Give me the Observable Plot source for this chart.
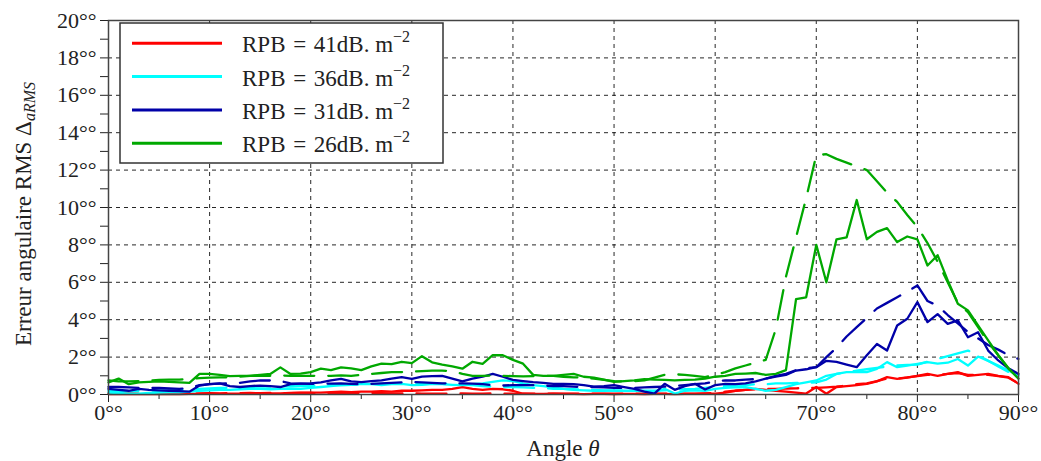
<!DOCTYPE html>
<html><head><meta charset="utf-8">
<script src="https://cdn.jsdelivr.net/npm/d3@7"></script>
<script src="https://cdn.jsdelivr.net/npm/@observablehq/plot@0.6"></script>
<style>
body{margin:0;background:#fff;}
#chart svg{display:block;}
#chart svg text{font-family:'Liberation Serif', serif;}
</style></head><body><div id="chart"></div>
<script>
// Angle theta (degrees), one sample per degree
const angles = [0,1,2,3,4,5,6,7,8,9,10,11,12,13,14,15,16,17,18,19,20,21,22,23,24,25,26,27,28,29,30,31,32,33,34,35,36,37,38,39,40,41,42,43,44,45,46,47,48,49,50,51,52,53,54,55,56,57,58,59,60,61,62,63,64,65,66,67,68,69,70,71,72,73,74,75,76,77,78,79,80,81,82,83,84,85,86,87,88,89,90];

// RPB = 41 dB.m^-2 (red)
const rpb41Solid = [0.02,0.02,0.03,0.02,0.02,0.03,0.02,0.02,0.03,0.03,0.04,0.03,0.04,0.04,0.05,0.05,0.06,0.06,0.08,0.1,0.1,0.1,0.12,0.15,0.12,0.15,0.15,0.18,0.15,0.2,0.2,0.22,0.25,0.25,0.3,0.4,0.3,0.25,0.3,0.28,0.2,0.04,0.03,0.03,0.04,0.03,0.03,0.02,0.03,0.03,0.02,0.03,0.03,0.02,0.03,0.03,0.02,0.03,0.03,0.04,0.05,0.1,0.2,0.25,0.3,0.25,0.2,0.15,0.1,0.05,0.4,0.04,0.4,0.45,0.5,0.57,0.7,0.93,0.84,0.9,1.0,1.1,1.0,1.1,1.2,1.0,1.05,1.1,1.0,0.93,0.57];
const rpb41Dashed = [0.05,0.05,0.06,0.05,0.05,0.06,0.06,0.05,0.06,0.06,0.07,0.06,0.07,0.07,0.08,0.07,0.08,0.08,0.07,0.08,0.08,0.07,0.08,0.08,0.07,0.08,0.08,0.07,0.06,0.06,0.06,0.05,0.05,0.05,0.05,0.06,0.05,0.05,0.06,0.05,0.05,0.05,0.04,0.04,0.05,0.04,0.04,0.05,0.04,0.04,0.05,0.04,0.04,0.05,0.04,0.04,0.05,0.04,0.05,0.06,0.08,0.15,0.2,0.25,0.28,0.3,0.3,0.32,0.33,0.35,0.35,0.38,0.42,0.48,0.55,0.6,0.72,0.85,0.85,0.92,0.98,1.05,1.05,1.1,1.15,1.05,1.05,1.05,0.98,0.9,0.6];

// RPB = 36 dB.m^-2 (cyan)
const rpb36Solid = [0.1,0.08,0.05,0.05,0.08,0.1,0.12,0.12,0.15,0.2,0.22,0.25,0.25,0.28,0.3,0.3,0.28,0.3,0.32,0.3,0.35,0.4,0.45,0.5,0.52,0.57,0.55,0.5,0.55,0.57,0.5,0.52,0.57,0.55,0.52,0.5,0.55,0.6,0.68,0.75,0.72,0.6,0.5,0.45,0.38,0.3,0.25,0.22,0.2,0.2,0.22,0.2,0.2,0.18,0.15,0.3,0.05,0.2,0.22,0.2,0.3,0.35,0.38,0.4,0.3,0.2,0.25,0.4,0.55,0.65,0.75,1.0,1.1,1.2,1.2,1.2,1.37,1.73,1.46,1.55,1.64,1.73,1.65,1.7,1.9,1.55,2.03,1.8,1.55,1.28,1.0];
const rpb36Dashed = [0.2,0.2,0.18,0.2,0.22,0.2,0.2,0.22,0.25,0.3,0.32,0.35,0.35,0.38,0.4,0.42,0.42,0.45,0.45,0.45,0.45,0.48,0.5,0.5,0.52,0.55,0.57,0.57,0.58,0.57,0.55,0.55,0.57,0.57,0.55,0.52,0.5,0.45,0.42,0.4,0.4,0.38,0.35,0.35,0.3,0.3,0.28,0.25,0.25,0.22,0.2,0.2,0.2,0.2,0.2,0.22,0.25,0.28,0.3,0.35,0.4,0.45,0.45,0.5,0.55,0.55,0.6,0.6,0.62,0.62,0.65,0.8,1.1,1.2,1.28,1.35,1.42,1.5,1.55,1.58,1.6,1.75,1.9,2.05,2.2,2.35,2.1,1.8,1.5,1.2,0.95];

// RPB = 31 dB.m^-2 (dark blue)
const rpb31Solid = [0.3,0.25,0.2,0.3,0.25,0.22,0.2,0.18,0.15,0.48,0.55,0.6,0.45,0.4,0.45,0.48,0.45,0.4,0.55,0.58,0.6,0.65,0.75,0.84,0.7,0.66,0.72,0.75,0.85,0.93,0.84,0.96,0.98,1.0,0.85,0.7,0.85,0.95,1.1,0.95,0.78,0.72,0.66,0.62,0.57,0.57,0.55,0.5,0.42,0.45,0.5,0.4,0.3,0.15,0.05,0.57,0.25,0.45,0.57,0.27,0.5,0.57,0.55,0.6,0.7,0.85,0.95,1.05,1.28,1.35,1.46,1.8,1.75,1.6,1.46,2.1,2.7,2.35,3.69,4.05,4.94,3.87,4.3,3.78,3.96,3.06,3.33,2.35,1.82,1.4,1.1];
const rpb31Dashed = [0.4,0.4,0.38,0.35,0.35,0.35,0.32,0.3,0.35,0.5,0.55,0.58,0.6,0.62,0.7,0.75,0.75,0.72,0.6,0.58,0.57,0.57,0.58,0.6,0.57,0.55,0.57,0.6,0.62,0.65,0.66,0.65,0.62,0.6,0.6,0.6,0.58,0.55,0.5,0.48,0.5,0.5,0.5,0.48,0.45,0.45,0.42,0.4,0.4,0.38,0.35,0.35,0.35,0.38,0.4,0.42,0.45,0.5,0.55,0.6,0.7,0.75,0.75,0.8,0.82,0.85,1.0,1.1,1.3,1.4,1.46,2.0,2.5,3.1,3.6,4.1,4.6,4.9,5.2,5.5,5.83,5.0,4.75,4.25,3.8,3.35,3.0,2.65,2.4,2.1,1.9];

// RPB = 26 dB.m^-2 (green)
const rpb26Solid = [0.65,0.85,0.55,0.65,0.68,0.7,0.68,0.65,0.62,1.1,1.1,1.05,0.98,1.0,1.0,1.05,1.1,1.45,1.1,1.12,1.2,1.38,1.3,1.45,1.4,1.3,1.5,1.65,1.62,1.75,1.68,2.05,1.72,1.6,1.5,1.38,1.75,1.64,2.1,2.1,1.85,1.65,1.05,1.0,1.0,1.05,1.1,0.95,0.9,0.8,0.68,0.72,0.75,0.82,0.8,0.78,0.75,0.78,0.8,0.85,0.95,1.0,1.1,1.12,1.15,1.05,1.1,1.3,5.1,5.2,8.0,6.0,8.3,8.4,10.4,8.3,8.7,8.9,8.15,8.45,8.3,6.9,7.45,6.1,4.85,4.5,3.7,2.9,2.1,1.4,0.85];
const rpb26Dashed = [0.75,0.7,0.7,0.72,0.75,0.78,0.8,0.8,0.82,0.88,0.9,0.92,0.92,0.95,1.0,1.0,1.0,1.02,1.0,1.0,1.0,1.0,1.0,1.02,1.0,1.05,1.1,1.15,1.2,1.2,1.22,1.25,1.28,1.28,1.25,1.1,1.0,1.0,1.02,1.0,0.98,0.97,0.98,1.0,1.0,0.95,0.92,0.9,0.85,0.78,0.72,0.7,0.72,0.75,0.9,1.05,1.08,1.05,1.0,0.93,1.05,1.2,1.4,1.55,1.7,1.85,3.5,6.3,8.4,10.5,12.8,12.85,12.6,12.4,12.2,12.0,11.4,10.8,10.3,9.6,8.95,8.1,7.1,6.0,4.9,4.4,3.6,2.8,2.1,1.4,0.8];

const seriesLabels = ["41", "36", "31", "26"];
const seriesColors = ["#ff0000", "#00ffff", "#0000a8", "#00a800"];
const yMajorTicks = [0,2,4,6,8,10,12,14,16,18,20];
const yMinorTicks = [1,3,5,7,9,11,13,15,17,19];
const xMajorTicks = [0,10,20,30,40,50,60,70,80,90];
const xMinorTicks = [5,15,25,35,45,55,65,75,85];
const yGrid = [2,4,6,8,10,12,14,16,18];
const xGrid = [10,20,30,40,50,60,70,80];

const solids = [rpb41Solid, rpb36Solid, rpb31Solid, rpb26Solid];
const dashes = [rpb41Dashed, rpb36Dashed, rpb31Dashed, rpb26Dashed];
const toRows = (vals) => angles.map((a, i) => ({angle: a, value: vals[i]}));

const lineMarks = [];
for (let k = 0; k < 4; k++) {
  lineMarks.push(Plot.line(toRows(dashes[k]), {x: "angle", y: "value", stroke: seriesColors[k], strokeWidth: 2.3, strokeDasharray: "30,14"}));
  lineMarks.push(Plot.line(toRows(solids[k]), {x: "angle", y: "value", stroke: seriesColors[k], strokeWidth: 2.3}));
}

const fmt = d => d + "°°";
const chart = Plot.plot({
  width: 1041, height: 461,
  marginLeft: 108, marginRight: 23, marginTop: 20, marginBottom: 67,
  style: {fontFamily: "'Liberation Serif', serif", fontSize: "22px", background: "#fff", color: "#222"},
  x: {domain: [0, 90]},
  y: {domain: [0, 20]},
  marks: [
    Plot.gridY(yGrid, {stroke: "#000", strokeOpacity: 0.85, strokeDasharray: "4,4", strokeWidth: 1}),
    Plot.gridX(xGrid, {stroke: "#000", strokeOpacity: 0.85, strokeDasharray: "4,4", strokeWidth: 1}),
    ...lineMarks,
    Plot.axisY(yMajorTicks, {tickSize: 8, tickPadding: 4, tickFormat: fmt, label: null, fontSize: 22}),
    Plot.axisY(yMinorTicks, {tickSize: 8, tickFormat: () => "", label: null}),
    Plot.axisX(xMajorTicks, {tickSize: 8, tickPadding: 2, tickFormat: fmt, label: null, fontSize: 22}),
    Plot.axisX(xMinorTicks, {tickSize: 5, tickFormat: () => "", label: null}),
    Plot.frame({stroke: "#444", strokeWidth: 1.5})
  ]
});
document.getElementById("chart").appendChild(chart);

const svg = d3.select(chart);
// Axis titles
const yl = svg.append("text")
  .attr("transform", "translate(31,214) rotate(-90)")
  .attr("text-anchor", "middle")
  .attr("font-size", 23).attr("fill", "#222");
yl.append("tspan").text("Erreur angulaire RMS Δ");
yl.append("tspan").attr("font-style", "italic").attr("font-size", 16).attr("dy", 4).text("aRMS");

const xl = svg.append("text")
  .attr("x", 563).attr("y", 456)
  .attr("text-anchor", "middle")
  .attr("font-size", 23).attr("fill", "#222");
xl.append("tspan").text("Angle ");
xl.append("tspan").attr("font-style", "italic").text("θ");

// Legend
const lg = svg.append("g");
lg.append("rect").attr("x", 120).attr("y", 23).attr("width", 323).attr("height", 140)
  .attr("fill", "#fff").attr("stroke", "#333").attr("stroke-width", 1.5);
seriesLabels.forEach((lab, i) => {
  const y = 43.3 + i * 33.3;
  lg.append("line").attr("x1", 132).attr("x2", 222).attr("y1", y).attr("y2", y)
    .attr("stroke", seriesColors[i]).attr("stroke-width", 3);
  const t = lg.append("text").attr("x", 242).attr("y", y + 9)
    .attr("text-anchor", "start")
    .attr("font-size", 23).attr("fill", "#222");
  t.append("tspan").text("RPB\u2004=\u2004" + lab + "dB. m");
  t.append("tspan").attr("font-size", 16).attr("dy", -10).text("−2");
});
</script>
</body></html>
